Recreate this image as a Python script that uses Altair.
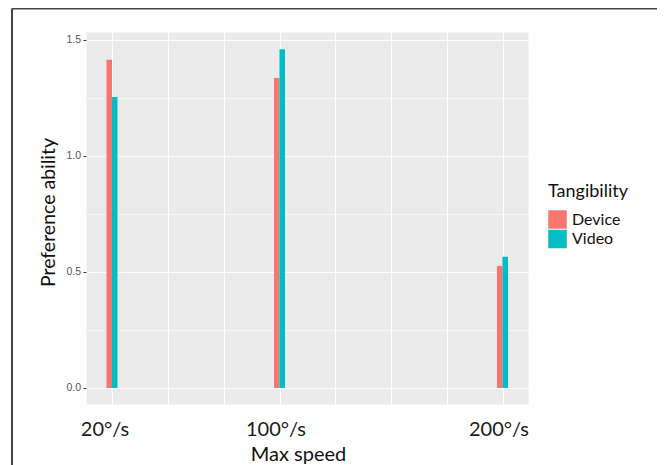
import altair as alt
import pandas as pd

# ---- data ----
speeds = [20, 100, 200]
speed_labels = ["20°/s", "100°/s", "200°/s"]
device_vals = [1.414, 1.336, 0.526]
video_vals = [1.254, 1.460, 0.565]
groups = ["Device", "Video"]
colors = ["#F8766D", "#00BFC4"]

# axis / grid break lists
x_grid_values = [20, 46.667, 73.333, 100, 125, 150, 175, 200]
y_major = [0.0, 0.5, 1.0, 1.5]
y_minor = [0.25, 0.75, 1.25]

rows = []
for s, d, v in zip(speeds, device_vals, video_vals):
    rows.append({"speed": s, "Tangibility": "Device", "value": d})
    rows.append({"speed": s, "Tangibility": "Video", "value": v})
df = pd.DataFrame(rows)

label_expr = " : ".join(
    f"datum.value == {s} ? '{lab}'" for s, lab in zip(speeds, speed_labels)
) + " : ''"

x_enc = alt.X(
    "speed:Q",
    scale=alt.Scale(type="linear", domain=[7.58, 20, 100, 200, 211.43],
                    range=[0, 26, 193.5, 416.5, 442]),
    axis=alt.Axis(
        values=x_grid_values, grid=True, gridColor="white", gridWidth=1.0,
        ticks=False, tickSize=0, domain=False, labelExpr=label_expr,
        labelFont="Lato", labelFontSize=20, labelColor="#1a1a1a",
        labelBaseline="alphabetic", labelPadding=31, labelOverlap=False,
        labelFlush=False,
        labelOffset={"condition": {"test": "datum.value == 20", "value": -7.5},
                     "value": -4},
        title="Max speed", titleFont="Lato", titleFontSize=20,
        titleFontWeight="normal", titleColor="#111111",
        titleX=212, titleY=56, titleBaseline="alphabetic", titleAlign="center",
    ),
)

y_enc = alt.Y(
    "value:Q", stack=None,
    scale=alt.Scale(domain=[-0.069, 1.534], nice=False, zero=False),
    axis=alt.Axis(
        values=sorted(y_major + y_minor), grid=True, gridColor="white",
        gridWidth={"condition": {"test": "datum.value % 0.5 != 0", "value": 0.6},
                   "value": 1.1},
        tickOpacity={"condition": {"test": "datum.value % 0.5 != 0", "value": 0},
                     "value": 1},
        tickColor="#333333", tickSize=3, tickWidth=1, domain=False,
        labelExpr="datum.value % 0.5 == 0 ? format(datum.value, '.1f') : ''",
        labelFont="Liberation Sans", labelFontSize=10.5, labelColor="#555555",
        labelPadding=2.5, labelOverlap=False, labelFlush=False,
        title="Preference ability", titleFont="Lato", titleFontSize=19.5,
        titleFontWeight="normal", titleColor="#111111",
        titleX=-32, titleY=180, titleBaseline="alphabetic", titleAlign="center",
    ),
)

color_enc = alt.Color(
    "Tangibility:N",
    scale=alt.Scale(domain=groups, range=colors),
    legend=alt.Legend(
        orient="none", legendX=462, legendY=151, padding=0,
        title="Tangibility", titleFont="Lato", titleFontSize=18,
        titleFontWeight="normal", titleColor="#111111", titlePadding=9,
        labelFont="Lato", labelFontSize=16, labelColor="#111111", labelOffset=5,
        symbolType="square", symbolSize=342, symbolStrokeWidth=0,
        symbolOpacity=1, rowPadding=0.5,
    ),
)

base = alt.Chart(df)
device_layer = base.transform_filter("datum.Tangibility == 'Device'").mark_bar(
    size=5.5, xOffset=-2.75
).encode(x=x_enc, y=y_enc, y2=alt.datum(0), color=color_enc)
video_layer = base.transform_filter("datum.Tangibility == 'Video'").mark_bar(
    size=5.5, xOffset=2.75
).encode(x=x_enc, y=y_enc, y2=alt.datum(0), color=color_enc)

frame_df = pd.DataFrame({"a": [0]})
frame_top = alt.Chart(frame_df).mark_rule(stroke="#444444", strokeWidth=2).encode(
    x=alt.value(-74), x2=alt.value(700), y=alt.value(-23.5)
)
frame_left = alt.Chart(frame_df).mark_rule(stroke="#444444", strokeWidth=2).encode(
    x=alt.value(-74), y=alt.value(-23.5), y2=alt.value(500)
)

chart = alt.layer(device_layer, video_layer, frame_top, frame_left).properties(
    width=442, height=372,
    autosize=alt.AutoSizeParams(type="none"),
    padding={"left": 78, "top": 24, "right": 129, "bottom": 62},
).configure_view(fill="#EBEBEB", stroke="transparent")

chart.save("out.html", embed_options={"renderer": "svg", "actions": False})
